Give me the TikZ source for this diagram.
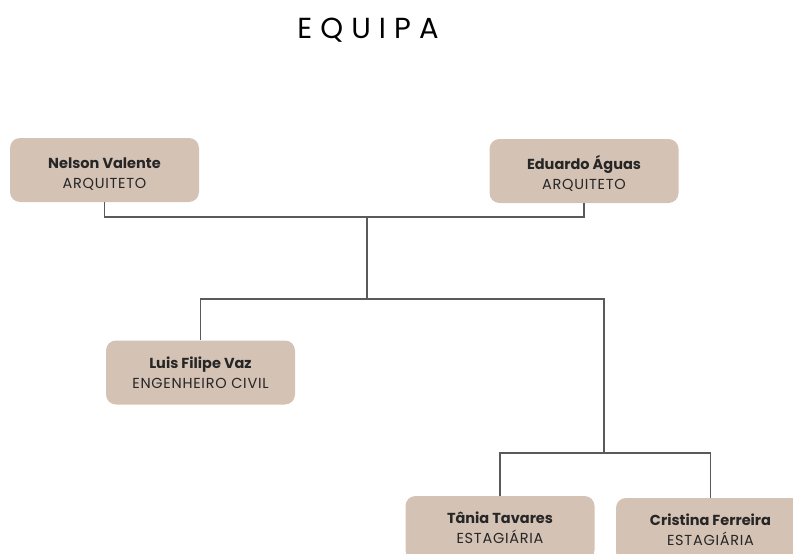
\documentclass[tikz,border=0pt]{standalone}
\usepackage{fontspec}
\setmainfont{Poppins}
\newfontfamily\titre[LetterSpace=28]{Poppins}
\newfontfamily\cargo[LetterSpace=5]{Poppins}
\definecolor{areia}{HTML}{D4C2B4}
\definecolor{traco}{HTML}{5A5A5A}
\newcommand{\membro}[3][19pt]{\rule{0pt}{#1}\textbf{#2}\\{\cargo #3}}
\begin{document}
\begin{tikzpicture}[
      x=1pt, y=-1pt,
      linha/.style={draw=traco, line width=1.1pt},
      caixa/.style={rectangle, rounded corners=10pt, fill=areia,
        text centered, align=center, minimum width=189pt,
        minimum height=64pt, inner sep=0pt,
        font=\fontsize{14.5}{20}\selectfont, text=black!85}
    ]
    \useasboundingbox (0,0) rectangle (793,554);
    \clip (0,0) rectangle (793,554);
    \node(titulo) at (368,30) {\titre\fontsize{29}{32}\selectfont EQUIPA};
    \path (104.5,170) node(nelson) [caixa] {\membro{Nelson Valente}{ARQUITETO}}
    (584,171) node(eduardo) [caixa] {\membro{Eduardo Águas}{ARQUITETO}}
    (200.5,372.5) node(luis) [caixa] {\membro[0pt]{Luis Filipe Vaz}{ENGENHEIRO CIVIL}}
    (500,528) node(tania) [caixa] {\membro[0pt]{Tânia Tavares}{ESTAGIÁRIA}}
    (710.5,530) node(cristina) [caixa] {\membro[0pt]{Cristina Ferreira}{ESTAGIÁRIA}};
    \coordinate (j1) at (367,217);
    \coordinate (j2) at (367,299);
    \coordinate (j3) at (604,299);
    \coordinate (j4) at (604,453);
    \draw[linha] (nelson.south) |- (j1) -| (eduardo.south);
    \draw[linha] (j1) -- (j2);
    \draw[linha] (luis.north) |- (j3) -- (j4);
    \draw[linha] (tania.north) |- (j4) -| (cristina.north);
  \end{tikzpicture}
\end{document}
